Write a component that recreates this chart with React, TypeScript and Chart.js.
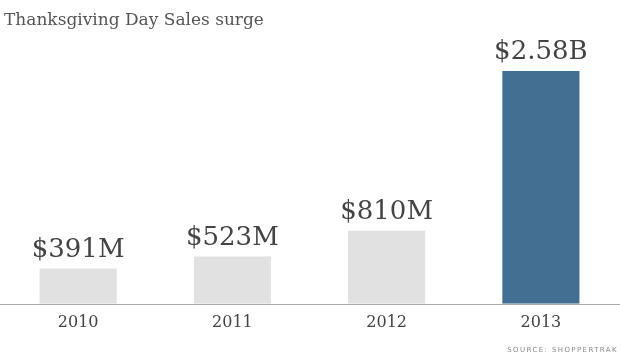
import React, { useEffect, useRef } from "react";
import { Chart, registerables } from "chart.js";

Chart.register(...registerables);

const categories = ["2010", "2011", "2012", "2013"];
const salesMillions = [391, 523, 810, 2580];
const valueLabels = ["$391M", "$523M", "$810M", "$2.58B"];
const barColors = ["#e1e1e1", "#e1e1e1", "#e1e1e1", "#437092"];
const titleText = "Thanksgiving Day Sales surge";
const sourceText = "SOURCE: SHOPPERTRAK";

const decorPlugin = {
  id: "decor",
  afterDatasetsDraw(chart: any) {
    const ctx = chart.ctx;
    const meta = chart.getDatasetMeta(0);
    ctx.save();
    // axis line
    const y0 = Math.round(chart.scales.y.getPixelForValue(0)) + 0.5;
    ctx.strokeStyle = "#aaaaaa";
    ctx.lineWidth = 1;
    ctx.beginPath();
    ctx.moveTo(0, y0);
    ctx.lineTo(chart.width, y0);
    ctx.stroke();
    // value labels
    ctx.fillStyle = "#444444";
    ctx.font = "26px 'DejaVu Serif'";
    ctx.textAlign = "center";
    ctx.textBaseline = "alphabetic";
    meta.data.forEach((bar: any, i: number) => {
      ctx.fillText(valueLabels[i], bar.x, bar.y - 12);
    });
    // title
    ctx.textAlign = "left";
    ctx.fillStyle = "#555555";
    ctx.font = "17px 'DejaVu Serif'";
    ctx.fillText(titleText, 4, 25);
    // source
    ctx.fillStyle = "#8a8a8a";
    ctx.font = "7px 'DejaVu Sans'";
    (ctx as any).letterSpacing = "1.4px";
    ctx.textAlign = "right";
    ctx.fillText(sourceText, chart.width - 2, 352);
    ctx.restore();
  },
};

export default function App() {
  const ref = useRef<HTMLCanvasElement | null>(null);
  useEffect(() => {
    if (!ref.current) return;
    const chart = new Chart(ref.current, {
      type: "bar",
      data: {
        labels: categories,
        datasets: [
          {
            data: salesMillions,
            backgroundColor: barColors,
            borderWidth: 0,
            barPercentage: 0.5,
            categoryPercentage: 1,
          },
        ],
      },
      options: {
        animation: false,
        responsive: false,
        maintainAspectRatio: false,
        layout: { padding: { top: 33, left: 1, right: 2, bottom: 22 } },
        plugins: {
          legend: { display: false },
          tooltip: { enabled: false },
          title: { display: false },
        },
        scales: {
          x: {
            grid: { display: false },
            border: { display: false },
            ticks: {
              color: "#444444",
              font: { family: "'DejaVu Serif'", size: 16 },
              padding: 1,
            },
          },
          y: {
            display: false,
            min: 0,
            max: 3000,
          },
        },
      },
      plugins: [decorPlugin],
    });
    return () => chart.destroy();
  }, []);
  return (
    <div style={{ position: "fixed", left: 0, top: 0, width: 620, height: 355, background: "#fff" }}>
      <canvas ref={ref} width={620} height={355} style={{ width: 620, height: 355 }} />
    </div>
  );
}
